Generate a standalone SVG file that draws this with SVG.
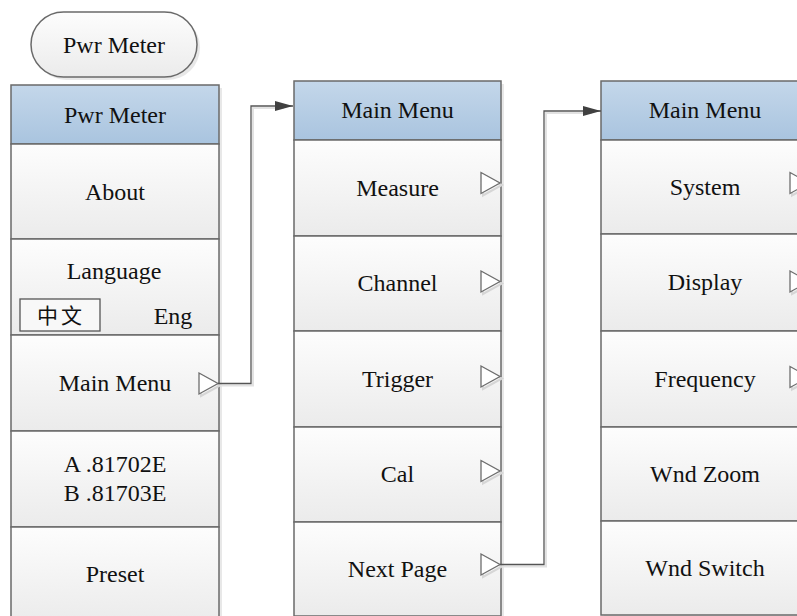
<svg xmlns="http://www.w3.org/2000/svg" width="797" height="616" viewBox="0 0 797 616">
<defs>
<linearGradient id="gCell" x1="0" y1="0" x2="0" y2="1">
<stop offset="0" stop-color="#fdfdfd"/>
<stop offset="1" stop-color="#ebebeb"/>
</linearGradient>
<linearGradient id="gHead" x1="0" y1="0" x2="0" y2="1">
<stop offset="0" stop-color="#c4d7ea"/>
<stop offset="1" stop-color="#a9c4df"/>
</linearGradient>
<marker id="arr" markerUnits="userSpaceOnUse" markerWidth="20" markerHeight="12" refX="18" refY="6" orient="auto">
<path d="M0,1 L18,6 L0,11 Z" fill="#404040"/>
</marker>
</defs>

<g id="shadows" fill="#d9d9d9" opacity="0.6">
<rect x="34" y="15" width="166" height="65" rx="32.5"/>
<rect x="14" y="88" width="208" height="540"/>
<rect x="297" y="84" width="207" height="536"/>
<rect x="604" y="84" width="208" height="534"/>
</g>

<g id="btn-pwr-meter">
<rect x="31" y="12" width="166" height="65" rx="32.5" fill="url(#gCell)" stroke="#6a6a6a" stroke-width="1.5"/>
<text x="114" y="53" font-family="Times New Roman, Liberation Serif, Tinos, serif" font-size="24" fill="#111" text-anchor="middle">Pwr Meter</text>
</g>

<g id="col-left" stroke="#6a6a6a" stroke-width="1.5">
<g id="l-head"><rect x="11" y="85" width="208" height="59" fill="url(#gHead)"/></g>
<g id="l-about"><rect x="11" y="144" width="208" height="95" fill="url(#gCell)"/></g>
<g id="l-language"><rect x="11" y="239" width="208" height="96" fill="url(#gCell)"/>
<rect x="20" y="299" width="80" height="32" fill="#f8f8f8" stroke="#555" stroke-width="1.3"/></g>
<g id="l-mainmenu"><rect x="11" y="335" width="208" height="96" fill="url(#gCell)"/>
<path d="M201,375 L220,385.5 L201,396 Z" fill="none" stroke="#d6d6d6" stroke-width="2"/>
<path d="M199,373 L218,383.5 L199,394 Z" fill="#fff" stroke="#6e6e6e" stroke-width="1.3"/></g>
<g id="l-ab"><rect x="11" y="431" width="208" height="96" fill="url(#gCell)"/></g>
<g id="l-preset"><rect x="11" y="527" width="208" height="96" fill="url(#gCell)"/></g>
</g>

<g id="col-mid" stroke="#6a6a6a" stroke-width="1.5">
<g id="m-head"><rect x="294" y="81" width="207" height="59" fill="url(#gHead)"/></g>
<g id="m-measure"><rect x="294" y="140" width="207" height="96" fill="url(#gCell)"/>
<path d="M483,174.5 L502,185 L483,195.5 Z" fill="none" stroke="#d6d6d6" stroke-width="2"/><path d="M481,172.5 L500,183 L481,193.5 Z" fill="#fff" stroke="#6e6e6e" stroke-width="1.3"/></g>
<g id="m-channel"><rect x="294" y="236" width="207" height="95" fill="url(#gCell)"/>
<path d="M483,273 L502,283.5 L483,294 Z" fill="none" stroke="#d6d6d6" stroke-width="2"/><path d="M481,271 L500,281.5 L481,292 Z" fill="#fff" stroke="#6e6e6e" stroke-width="1.3"/></g>
<g id="m-trigger"><rect x="294" y="331" width="207" height="96" fill="url(#gCell)"/>
<path d="M483,368 L502,378.5 L483,389 Z" fill="none" stroke="#d6d6d6" stroke-width="2"/><path d="M481,366 L500,376.5 L481,387 Z" fill="#fff" stroke="#6e6e6e" stroke-width="1.3"/></g>
<g id="m-cal"><rect x="294" y="427" width="207" height="95" fill="url(#gCell)"/>
<path d="M483,462.5 L502,473 L483,483.5 Z" fill="none" stroke="#d6d6d6" stroke-width="2"/><path d="M481,460.5 L500,471 L481,481.5 Z" fill="#fff" stroke="#6e6e6e" stroke-width="1.3"/></g>
<g id="m-nextpage"><rect x="294" y="522" width="207" height="94" fill="url(#gCell)"/>
<path d="M483,556 L502,566.5 L483,577 Z" fill="none" stroke="#d6d6d6" stroke-width="2"/><path d="M481,554 L500,564.5 L481,575 Z" fill="#fff" stroke="#6e6e6e" stroke-width="1.3"/></g>
</g>

<g id="col-right" stroke="#6a6a6a" stroke-width="1.5">
<g id="r-head"><rect x="601" y="81" width="208" height="59" fill="url(#gHead)"/></g>
<g id="r-system"><rect x="601" y="140" width="208" height="94" fill="url(#gCell)"/>
<path d="M792,174.5 L811,185 L792,195.5 Z" fill="none" stroke="#d6d6d6" stroke-width="2"/><path d="M790,172.5 L809,183 L790,193.5 Z" fill="#fff" stroke="#6e6e6e" stroke-width="1.3"/></g>
<g id="r-display"><rect x="601" y="234" width="208" height="97" fill="url(#gCell)"/>
<path d="M792,273 L811,283.5 L792,294 Z" fill="none" stroke="#d6d6d6" stroke-width="2"/><path d="M790,271 L809,281.5 L790,292 Z" fill="#fff" stroke="#6e6e6e" stroke-width="1.3"/></g>
<g id="r-frequency"><rect x="601" y="331" width="208" height="96" fill="url(#gCell)"/>
<path d="M792,368.5 L811,379 L792,389.5 Z" fill="none" stroke="#d6d6d6" stroke-width="2"/><path d="M790,366.5 L809,377 L790,387.5 Z" fill="#fff" stroke="#6e6e6e" stroke-width="1.3"/></g>
<g id="r-wndzoom"><rect x="601" y="427" width="208" height="94" fill="url(#gCell)"/></g>
<g id="r-wndswitch"><rect x="601" y="521" width="208" height="94" fill="url(#gCell)"/></g>
</g>

<g id="connectors" fill="none">
<path d="M220,385.5 H253 V108 H284" stroke="#e2e2e2" stroke-width="2"/>
<path d="M502,566.5 H546 V113 H592" stroke="#e2e2e2" stroke-width="2"/>
<path d="M218,383.5 H251 V106 H293" stroke="#555" stroke-width="1.3" marker-end="url(#arr)"/>
<path d="M500,564.5 H544 V111 H601" stroke="#555" stroke-width="1.3" marker-end="url(#arr)"/>
</g>

<g id="labels" font-family="Times New Roman, Liberation Serif, Tinos, serif" font-size="24" fill="#111" text-anchor="middle">
<text x="115" y="123">Pwr Meter</text>
<text x="115" y="200">About</text>
<text x="114" y="279">Language</text>
<text x="61" y="323" font-family="Noto Sans CJK SC, sans-serif" font-size="21" letter-spacing="3">中文</text>
<text x="173" y="324">Eng</text>
<text x="115" y="391">Main Menu</text>
<text x="115" y="472">A .81702E</text>
<text x="115" y="501">B .81703E</text>
<text x="115" y="582">Preset</text>
<text x="397.5" y="118">Main Menu</text>
<text x="397.5" y="196">Measure</text>
<text x="397.5" y="291">Channel</text>
<text x="397.5" y="387">Trigger</text>
<text x="397.5" y="482">Cal</text>
<text x="397.5" y="577">Next Page</text>
<text x="705" y="118">Main Menu</text>
<text x="705" y="195">System</text>
<text x="705" y="290">Display</text>
<text x="705" y="387">Frequency</text>
<text x="705" y="482">Wnd Zoom</text>
<text x="705" y="576">Wnd Switch</text>
</g>
</svg>
